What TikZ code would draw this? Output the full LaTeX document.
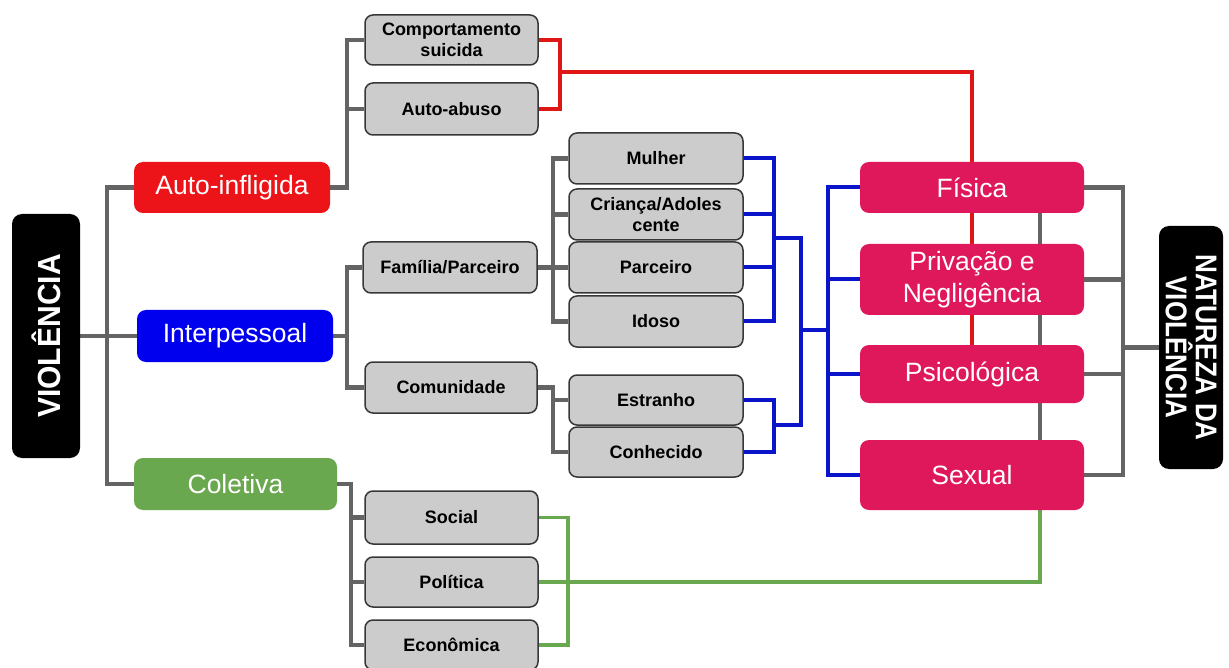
\documentclass[tikz,border=0pt]{standalone}
\usepackage{fontspec}
\setmainfont{Liberation Sans}
\newfontfamily\condfont[FakeStretch=0.87]{Liberation Sans}
\newfontfamily\semicondfont[FakeStretch=0.94]{Liberation Sans}
\usetikzlibrary{backgrounds}
\definecolor{linegray}{RGB}{100,100,100}
\definecolor{boxgray}{RGB}{204,204,204}
\definecolor{boxborder}{RGB}{55,55,55}
\definecolor{autored}{RGB}{236,20,24}
\definecolor{linered}{RGB}{222,22,22}
\definecolor{interblue}{RGB}{0,0,238}
\definecolor{lineblue}{RGB}{10,20,200}
\definecolor{coletgreen}{RGB}{106,168,79}
\definecolor{crimson}{RGB}{222,24,90}
\tikzset{
  sz/.style 2 args={minimum width=#1pt, minimum height=#2pt},
  graybox/.style={draw=boxborder, fill=boxgray, line width=1.5pt, rounded corners=8pt,
    font=\fontsize{18}{21.5}\selectfont\bfseries, align=center, inner sep=1pt, text=black},
  colbox/.style={rounded corners=9pt, font=\fontsize{26.5}{32.5}\selectfont, text=white,
    align=center, inner sep=1pt},
  blackbox/.style={fill=black, rounded corners=10pt, text=white, inner sep=0pt},
  gl/.style={draw=linegray, line width=4.5pt},
  rl/.style={draw=linered, line width=4pt},
  bl/.style={draw=lineblue, line width=4pt},
  grl/.style={draw=coletgreen, line width=3.5pt}
}
\begin{document}
\begin{tikzpicture}[x=1pt,y=-1pt]
\useasboundingbox (0,0) rectangle (1229,668);
% left title
\node[blackbox, sz={68}{244}] (viol) at (46,336)
  {\rotatebox{90}{\semicondfont\fontsize{32}{32}\selectfont\bfseries VIOLÊNCIA}};
% level 1
\node[colbox, fill=autored, sz={196}{51}] (auto) at (232,187.5) {Auto-infligida};
\node[colbox, fill=interblue, sz={196}{52}] (inter) at (235,336) {Interpessoal};
\node[colbox, fill=coletgreen, sz={203}{52}] (colet) at (235.5,484) {Coletiva};
% level 2
\node[graybox, sz={173}{50}] (comp) at (451.5,40) {Comportamento\\suicida};
\node[graybox, sz={173}{52}] (abuso) at (451.5,109) {Auto-abuso};
\node[graybox, sz={174}{51}] (fam) at (450,267.5) {Família/Parceiro};
\node[graybox, sz={172}{51}] (comu) at (451,387.5) {Comunidade};
\node[graybox, sz={173}{53}] (social) at (451.5,517.5) {Social};
\node[graybox, sz={173}{50}] (politica) at (451.5,582) {Política};
\node[graybox, sz={173}{50}] (economica) at (451.5,645) {Econômica};
% level 3
\node[graybox, sz={174}{51}] (mulher) at (656,158.5) {Mulher};
\node[graybox, sz={174}{51}] (crianca) at (656,214.5) {Criança/Adoles\\cente};
\node[graybox, sz={174}{51}] (parceiro) at (656,267.5) {Parceiro};
\node[graybox, sz={174}{51}] (idoso) at (656,321.5) {Idoso};
\node[graybox, sz={174}{50}] (estranho) at (656,400) {Estranho};
\node[graybox, sz={174}{50}] (conhecido) at (656,452) {Conhecido};
% nature
\node[colbox, fill=crimson, sz={224}{51}] (fisica) at (972,187.5) {Física};
\node[colbox, fill=crimson, sz={224}{71}] (privacao) at (972,279.5) {Privação e\\Negligência};
\node[colbox, fill=crimson, sz={224}{58}] (psico) at (972,374) {Psicológica};
\node[colbox, fill=crimson, sz={224}{70}] (sexual) at (972,475) {Sexual};
\node[blackbox, rotate=-90, sz={243}{64}, align=center,
  font=\condfont\fontsize{30}{30}\selectfont\bfseries] (natureza) at (1191,347.5)
  {NATUREZA DA\\VIOLÊNCIA};
% junction coordinates
\coordinate (ja) at (107,0);
\coordinate (jb) at (347,0);
\coordinate (jc) at (553,0);
\coordinate (jd) at (351,0);
\coordinate (jr) at (560,0);
\coordinate (rm) at (560,72);
\coordinate (jrr) at (972,0);
\coordinate (jb1) at (774,0);
\coordinate (jb2) at (801,0);
\coordinate (jb3) at (828,0);
\coordinate (bt) at (774,238);
\coordinate (bb) at (774,425);
\coordinate (bm) at (801,330);
\coordinate (jg) at (568,0);
\coordinate (jgg) at (1040,0);
\coordinate (jgr) at (1123,0);
\begin{scope}[on background layer]
% gray tree
\draw[gl] (viol.east) -- (inter.west);
\draw[gl] (auto.west) -| (colet.west -| ja) -- (colet.west);
\draw[gl] (auto.east) -| (comp.west -| jb) -- (comp.west);
\draw[gl] (abuso.west) -- (abuso.west -| jb);
\draw[gl] (inter.east) -- (inter.east -| jb);
\draw[gl] (fam.west) -| (comu.west -| jb) -- (comu.west);
\draw[gl] (mulher.west) -| (idoso.west -| jc) -- (idoso.west);
\draw[gl] (crianca.west) -- (crianca.west -| jc);
\draw[gl] (parceiro.west) -- (parceiro.west -| jc);
\draw[gl] (fam.east) -- (fam.east -| jc);
\draw[gl] (comu.east) -| (conhecido.west -| jc) -- (conhecido.west);
\draw[gl] (estranho.west) -- (estranho.west -| jc);
\draw[gl] (colet.east) -| (economica.west -| jd) -- (economica.west);
\draw[gl] (social.west) -- (social.west -| jd);
\draw[gl] (politica.west) -- (politica.west -| jd);
\draw[gl] (fisica.east) -| (sexual.east -| jgr) -- (sexual.east);
\draw[gl] (privacao.east) -- (privacao.east -| jgr);
\draw[gl] (psico.east) -- (psico.east -| jgr);
\draw[gl] (natureza.south) -- (natureza.south -| jgr);
\draw[gl] (fisica.south -| jgg) -- (sexual.north -| jgg);
% red
\draw[rl] (comp.east) -| (abuso.east -| jr) -- (abuso.east);
\draw[rl] (rm) -| (psico.north -| jrr);
% blue
\draw[bl] (mulher.east) -| (idoso.east -| jb1) -- (idoso.east);
\draw[bl] (crianca.east) -- (crianca.east -| jb1);
\draw[bl] (parceiro.east) -- (parceiro.east -| jb1);
\draw[bl] (estranho.east) -| (conhecido.east -| jb1) -- (conhecido.east);
\draw[bl] (bt) -| (bb -| jb2) -- (bb);
\draw[bl] (bm) -- (bm -| jb3);
\draw[bl] (fisica.west) -| (sexual.west -| jb3) -- (sexual.west);
\draw[bl] (privacao.west) -- (privacao.west -| jb3);
\draw[bl] (psico.west) -- (psico.west -| jb3);
% green
\draw[grl] (social.east) -| (economica.east -| jg) -- (economica.east);
\draw[grl] (politica.east) -| (sexual.south -| jgg);
\end{scope}
\end{tikzpicture}
\end{document}
